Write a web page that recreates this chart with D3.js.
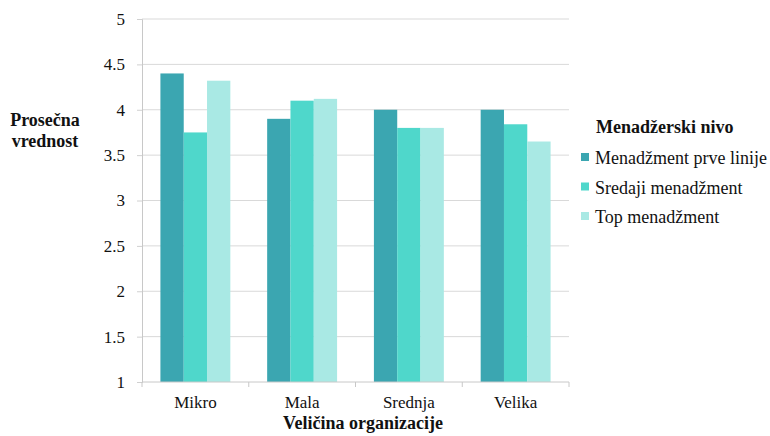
<!DOCTYPE html>
<html>
<head>
<meta charset="utf-8">
<script src="https://cdn.jsdelivr.net/npm/d3@7"></script>
</head>
<body style="margin:0;background:#fff">
<svg id="chart" width="770" height="436" font-family="Liberation Serif" fill="#111"></svg>
<script>
// Organization sizes and the three management levels
const categories = ["Mikro", "Mala", "Srednja", "Velika"];
const seriesNames = ["Menadžment prve linije", "Sredaji menadžment", "Top menadžment"];
const firstLine = [4.40, 3.90, 4.00, 4.00];
const middleMgmt = [3.75, 4.10, 3.80, 3.84];
const topMgmt = [4.32, 4.12, 3.80, 3.65];
const yTicks = [1, 1.5, 2, 2.5, 3, 3.5, 4, 4.5, 5];
const colors = ["#3ba6b1", "#4fd7cb", "#a9e9e4"];

const FONT = "Liberation Serif";
const series = [firstLine, middleMgmt, topMgmt];
const rows = categories.map((c, i) => ({ cat: c, vals: series.map(s => s[i]) }));

const svg = d3.select("#chart");
const m = { left: 142, right: 569, top: 19, bottom: 382 };

const x = d3.scaleBand().domain(categories).range([m.left, m.right]).paddingInner(0).paddingOuter(0);
const inner = d3.scaleBand().domain(d3.range(series.length)).range([0, x.bandwidth()])
  .paddingInner(0).paddingOuter(0.79);
const y = d3.scaleLinear().domain([1, 5]).range([m.bottom, m.top]);

// horizontal gridlines
svg.append("g")
  .selectAll("line")
  .data(yTicks.filter(t => t > 1))
  .join("line")
  .attr("x1", m.left).attr("x2", m.right)
  .attr("y1", d => y(d)).attr("y2", d => y(d))
  .attr("stroke", "#d9d9d9").attr("stroke-width", 1);

// y axis
const yAxis = svg.append("g")
  .attr("transform", `translate(${m.left},0)`)
  .call(d3.axisLeft(y).tickValues(yTicks).tickSize(5).tickPadding(12).tickFormat(d3.format("")));
yAxis.attr("font-family", FONT).attr("font-size", 17);
yAxis.select(".domain").attr("stroke", "#c8c8c8");
yAxis.selectAll(".tick line").attr("stroke", "#d0d0d0");
yAxis.selectAll(".tick text").attr("fill", "#111").attr("font-family", FONT);

// bars
const groups = svg.append("g")
  .selectAll("g")
  .data(rows)
  .join("g")
  .attr("transform", d => `translate(${x(d.cat)},0)`);
groups.selectAll("rect")
  .data(d => d.vals.map((v, k) => ({ v, k })))
  .join("rect")
  .attr("x", d => inner(d.k))
  .attr("width", inner.bandwidth())
  .attr("y", d => y(d.v))
  .attr("height", d => y(1) - y(d.v))
  .attr("fill", d => colors[d.k]);

// x axis with ticks between categories
const xAxis = svg.append("g")
  .attr("transform", `translate(0,${m.bottom})`);
xAxis.append("line")
  .attr("x1", m.left).attr("x2", m.right)
  .attr("stroke", "#c8c8c8");
xAxis.selectAll("line.tk")
  .data(categories.map(c => x(c)).concat([m.right]))
  .join("line").attr("class", "tk")
  .attr("x1", d => d).attr("x2", d => d)
  .attr("y1", 0).attr("y2", 5)
  .attr("stroke", "#c8c8c8");
xAxis.selectAll("text")
  .data(categories)
  .join("text")
  .attr("x", d => x(d) + x.bandwidth() / 2)
  .attr("y", 26)
  .attr("text-anchor", "middle")
  .attr("font-family", FONT)
  .attr("font-size", 17)
  .text(d => d);

// axis titles
svg.append("text")
  .attr("x", 363).attr("y", 429)
  .attr("text-anchor", "middle")
  .attr("font-family", FONT)
  .attr("font-size", 18).attr("font-weight", "bold")
  .text("Veličina organizacije");
const yt = svg.append("text")
  .attr("text-anchor", "middle")
  .attr("font-family", FONT)
  .attr("font-size", 18).attr("font-weight", "bold");
yt.append("tspan").attr("x", 45).attr("y", 126).text("Prosečna");
yt.append("tspan").attr("x", 45).attr("y", 147).text("vrednost");

// legend
const lg = svg.append("g").attr("font-family", FONT);
lg.append("text")
  .attr("x", 596).attr("y", 133)
  .attr("font-size", 18).attr("font-weight", "bold")
  .text("Menadžerski nivo");
const items = lg.selectAll("g.item")
  .data(seriesNames)
  .join("g").attr("class", "item")
  .attr("transform", (d, i) => `translate(0,${164 + i * 29.5})`);
items.append("rect")
  .attr("x", 581).attr("y", -11).attr("width", 8).attr("height", 8)
  .attr("fill", (d, i) => colors[i]);
items.append("text")
  .attr("x", 595).attr("y", 0)
  .attr("font-size", 18)
  .text(d => d);
</script>
</body>
</html>
